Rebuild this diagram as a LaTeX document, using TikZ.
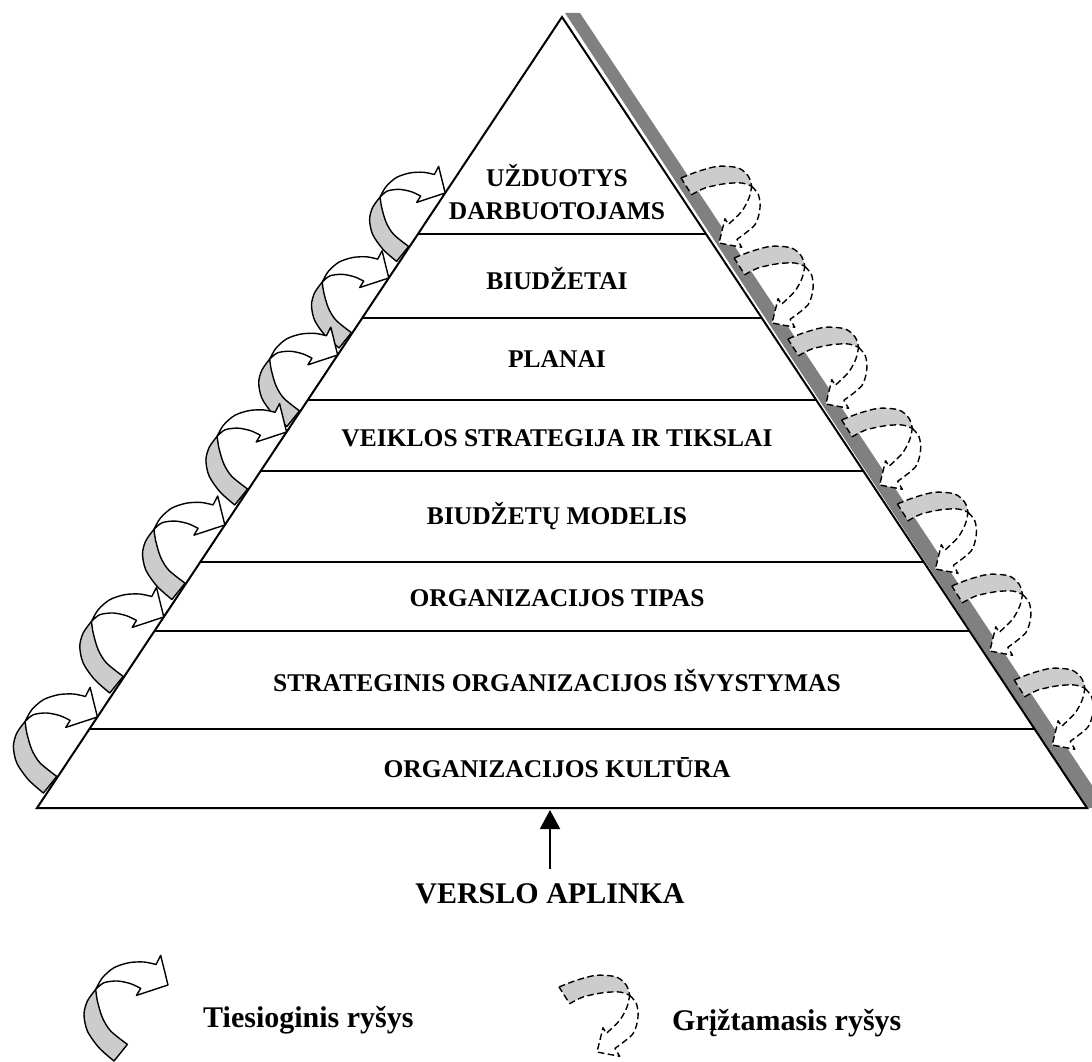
\documentclass[tikz,border=0pt]{standalone}
\usepackage{fontspec}
\setmainfont{Liberation Serif}
\usetikzlibrary{arrows.meta,calc,positioning}
\tikzset{>=Stealth}
\tikzset{
  tier/.style={font=\fontsize{25.5}{30}\selectfont\bfseries,anchor=base,inner sep=0pt},
  big/.style={font=\fontsize{30}{36}\selectfont\bfseries,anchor=base,inner sep=0pt},
  rule/.style={line width=2pt},
  ribbonback/.style={draw,fill=black!20,line width=1.4pt,line join=round},
  ribbonfront/.style={draw,fill=white,line width=1.4pt,line join=round},
  dashback/.style={ribbonback,dash pattern=on 6.5pt off 3.5pt},
  dashfront/.style={ribbonfront,dash pattern=on 6.5pt off 3.5pt}
}
\newcommand\fwdarrow[2]{%
  \begin{scope}[shift={(#1)},scale=#2]
    \filldraw[ribbonback] (-72.3,4.4) -- plot[smooth] coordinates {(-72.3,4.4) (-80.6,16) (-84,29.4) (-80.6,46) (-69,62.7) (-54,76)}
      -- (-40.6,59.4) -- plot[smooth] coordinates {(-40.6,59.4) (-57.3,46) (-65.6,32.7) (-70.6,16) (-72.3,4.4)} -- cycle;
    \filldraw[ribbonfront] (-72.3,4.4) -- plot[smooth] coordinates {(-72.3,4.4) (-65.6,-7.3) (-54,-17.3) (-39,-22.3) (-24,-23) (-12,-20.5)}
      -- (-7.3,-29.6) -- (0,0) -- (-31.6,10.4) -- (-27.3,3.4)
      -- plot[smooth] coordinates {(-27.3,3.4) (-37.3,-1.3) (-50.6,-4) (-64,-2.3) (-72.3,4.4)} -- cycle;
  \end{scope}}
\newcommand\bckarrow[2]{%
  \begin{scope}[shift={(#1)},scale=#2]
    \filldraw[dashback] (-38,-65) -- plot[smooth] coordinates {(-38,-65) (-20.6,-71.7) (-0.6,-76.7) (19.4,-75) (29.4,-66.7) (32.7,-56.7)}
      -- plot[smooth] coordinates {(32.7,-56.7) (22.7,-60) (6,-59.3) (-14,-55) (-27.3,-48.3)} -- cycle;
    \filldraw[dashfront] (32.7,-56.7) -- plot[smooth] coordinates {(32.7,-56.7) (39.4,-48.3) (41,-35) (36,-18.3) (18,-3.7)}
      -- (22.7,4.3) -- (0,0) -- (6,-24.3) -- (9.3,-18.6)
      -- plot[smooth] coordinates {(9.3,-18.6) (22.7,-31.7) (30,-45) (32.7,-56.7)} -- cycle;
  \end{scope}}

\begin{document}
\begin{tikzpicture}[x=1pt,y=-1pt]
  \useasboundingbox (0,0) rectangle (1092,1062);
  \coordinate (apex) at (562,17);
  \coordinate (bl) at (37,808);
  \coordinate (br) at (1087,808);
  \fill[gray] (565,13) -- (580,13) -- (1107,808) -- (1087,808) -- cycle;
  \draw[rule,fill=white] (apex) -- (bl) -- (br) -- cycle;
  \foreach \y in {234,318,400,471,562,631,729}
    \draw[rule] ($(apex)!{(\y-17)/791}!(bl)$) -- ($(apex)!{(\y-17)/791}!(br)$);

  \node[tier] (tasks) at (557,186) {UŽDUOTYS};
  \node[tier] (tasksb) at (557,219) {DARBUOTOJAMS};
  \node[tier] (budgets) at (557,289) {BIUDŽETAI};
  \node[tier] (plans) at (557,367) {PLANAI};
  \node[tier] (strategy) at (557,446) {VEIKLOS STRATEGIJA IR TIKSLAI};
  \node[tier] (model) at (557,524) {BIUDŽETŲ MODELIS};
  \node[tier] (orgtype) at (557,606) {ORGANIZACIJOS TIPAS};
  \node[tier] (develop) at (557,691) {STRATEGINIS ORGANIZACIJOS IŠVYSTYMAS};
  \node[tier] (culture) at (557,777) {ORGANIZACIJOS KULTŪRA};

  \foreach \y/\s in {193/0.9,278/0.92,355/0.94,432/0.96,525/0.98,617/1,717/1}
    \fwdarrow{$(apex)!{(\y-17)/791}!(bl)$}{\s};
  \foreach \y in {243,323,404,485,569,651,745}
    \bckarrow{$(apex)!{(\y-17)/791}!(br)+(7,0)$}{1};

  \node[big] (env) at (550,903) {VERSLO APLINKA};
  \coordinate (basemid) at (550,810);
  \draw[line width=2pt,-{Triangle[length=19pt,width=20pt]},shorten <=14pt] (env.north) -- (basemid);

  \fwdarrow{168,985}{1}
  \node[big,anchor=base west] (direct) at (203,1027) {Tiesioginis ryšys};
  \bckarrow{597,1052}{1}
  \node[big,anchor=base west] (feedback) at (672,1030) {Grįžtamasis ryšys};
\end{tikzpicture}
\end{document}
